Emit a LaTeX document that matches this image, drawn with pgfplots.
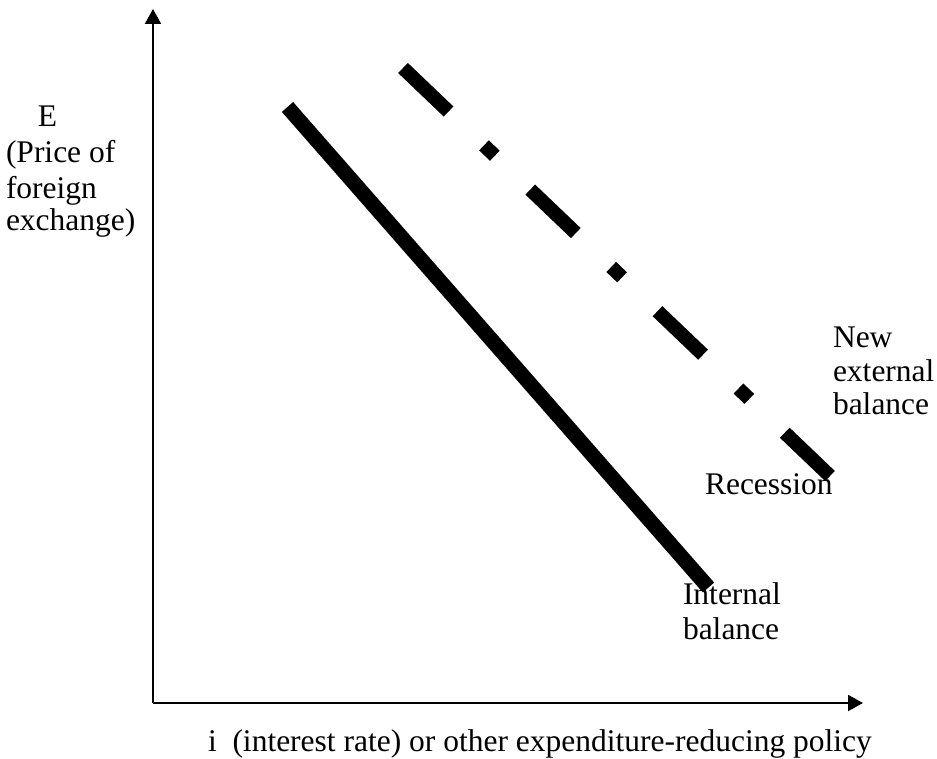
\documentclass[border=0pt]{standalone}
\usepackage{fontspec}
\setmainfont{Liberation Serif}
\usepackage{pgfplots}
\pgfplotsset{compat=1.18}
\usetikzlibrary{arrows.meta}
\tikzset{lbl/.style={inner sep=0pt, outer sep=0pt, anchor=base west, font=\fontsize{15.75}{17.5}\selectfont}}
\begin{document}
\fontsize{15.75}{17.5}\selectfont
\begin{tikzpicture}
\path[use as bounding box] (0,0) rectangle (468.5pt,379.5pt);
\begin{axis}[
  at={(0,0)}, anchor=south west,
  scale only axis, width=468.5pt, height=379.5pt,
  xmin=0, xmax=937, ymin=0, ymax=759,
  hide axis, clip=false,
]
% axes with arrows
\addplot[black, line width=1pt, -{Triangle[length=7.5pt,width=8pt]}] coordinates {(153,56) (153,750)};
\addplot[black, line width=1pt, -{Triangle[length=7.5pt,width=8pt]}] coordinates {(153,56) (863,56)};
% internal balance (solid)
\addplot[black, line width=7.5pt, line cap=butt] coordinates {(287.5,652) (708.5,171.5)};
% new external balance (dash-dot)
\addplot[black, line width=7pt, line cap=butt, dash pattern=on 31.5pt off 24.5pt on 7.5pt off 24.5pt] coordinates {(403,691) (830,283)};
% labels
\node[lbl] at (axis cs:38,632) {E};
\node[lbl] at (axis cs:6,596) {(Price of};
\node[lbl] at (axis cs:6,560) {foreign};
\node[lbl] at (axis cs:6,528) {exchange)};
\node[lbl] at (axis cs:833,411) {New};
\node[lbl] at (axis cs:833,377) {external};
\node[lbl] at (axis cs:833,344) {balance};
\node[lbl] at (axis cs:705,264) {Recession};
\node[lbl] at (axis cs:683,154) {Internal};
\node[lbl] at (axis cs:683,119) {balance};
\node[lbl] at (axis cs:208,7) {i\ \ (interest rate) or other expenditure-reducing policy};
\end{axis}
\end{tikzpicture}
\end{document}
